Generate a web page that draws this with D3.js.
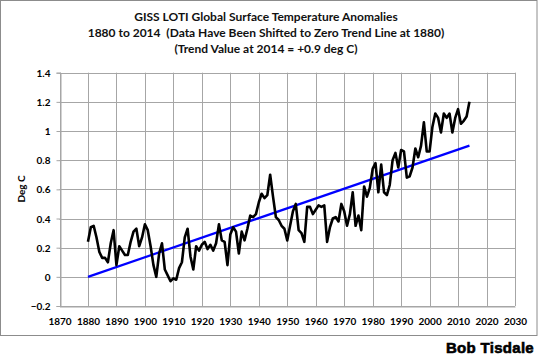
<!DOCTYPE html>
<html><head><meta charset="utf-8">
<script src="https://cdn.jsdelivr.net/npm/d3@7"></script>
<style>body{margin:0;background:#fff}svg{display:block}</style>
</head><body>
<svg id="c" width="540" height="357"></svg>
<script>
const titleLines = ["GISS LOTI Global Surface Temperature Anomalies",
  "1880 to 2014  (Data Have Been Shifted to Zero Trend Line at 1880)",
  "(Trend Value at 2014 = +0.9 deg C)"];
const yAxisLabel = "Deg C";
const credit = "Bob Tisdale";
const xTicks = d3.range(1870, 2031, 10);
const yTicks = [-0.2, 0, 0.2, 0.4, 0.6, 0.8, 1, 1.2, 1.4];
const startYear = 1880;
const anomalies = [
  0.24,0.34,0.35,0.27,0.17,0.13,0.13,0.10,0.23,0.32,
  0.08,0.21,0.18,0.15,0.15,0.24,0.31,0.33,0.21,0.27,
  0.36,0.32,0.21,0.08,0.00,0.16,0.23,0.05,0.01,-0.03,
  -0.01,-0.02,0.06,0.10,0.27,0.33,0.14,0.05,0.21,0.18,
  0.22,0.24,0.19,0.22,0.18,0.23,0.36,0.25,0.24,0.08,
  0.29,0.34,0.31,0.16,0.31,0.25,0.33,0.42,0.41,0.43,
  0.51,0.57,0.54,0.56,0.70,0.55,0.41,0.39,0.35,0.33,
  0.25,0.35,0.45,0.50,0.32,0.30,0.24,0.48,0.48,0.43,
  0.46,0.49,0.48,0.49,0.24,0.34,0.40,0.41,0.38,0.50,
  0.45,0.35,0.43,0.58,0.35,0.42,0.32,0.62,0.55,0.61,
  0.74,0.78,0.58,0.77,0.58,0.56,0.63,0.80,0.85,0.75,
  0.87,0.86,0.68,0.69,0.75,0.88,0.82,0.90,1.06,0.86,
  0.86,1.03,1.12,1.09,0.99,1.12,1.09,1.12,0.99,1.09,
  1.15,1.05,1.07,1.10,1.20];
const trendYears = [1880, 2014];
const trendValues = [0, 0.9];

const series = anomalies.map((v, i) => ({year: startYear + i, value: v}));
const trend = trendYears.map((y, i) => ({year: y, value: trendValues[i]}));

const svg = d3.select("#c");
const L = 59.5, R = 515, T = 72.7, B = 306;
const x = d3.scaleLinear().domain([1870, 2030]).range([L, R]);
const y = d3.scaleLinear().domain([-0.2, 1.4]).range([B, T]);
const font = "Lato, 'Open Sans', sans-serif";
const grid = "#a6a6a6";

// outer border
svg.append("rect").attr("x", 0.5).attr("y", 0.5).attr("width", 536.5).attr("height", 335)
  .attr("fill", "#fff").attr("stroke", "#8c8c8c").attr("stroke-width", 1);

// gridlines
svg.append("g").selectAll("line").data(yTicks).join("line")
  .attr("x1", L).attr("x2", R)
  .attr("y1", d => Math.round(y(d)) + 0.5).attr("y2", d => Math.round(y(d)) + 0.5)
  .attr("stroke", grid).attr("stroke-width", 1);
svg.append("g").selectAll("line").data(xTicks).join("line")
  .attr("y1", T).attr("y2", B)
  .attr("x1", d => Math.round(x(d)) + 0.5).attr("x2", d => Math.round(x(d)) + 0.5)
  .attr("stroke", grid).attr("stroke-width", 1);

// axes
const yAxis = svg.append("g").attr("transform", `translate(${Math.round(L) + 0.5},0)`)
  .call(d3.axisLeft(y).tickValues(yTicks).tickSize(4).tickPadding(6)
    .tickFormat(d => d === 0 ? "0" : d3.format("")(+d.toFixed(1))));
const xAxis = svg.append("g").attr("transform", `translate(0,${Math.round(B) + 0.5})`)
  .call(d3.axisBottom(x).tickValues(xTicks).tickSize(0).tickPadding(11).tickFormat(d3.format("d")));
[yAxis, xAxis].forEach(a => {
  a.select(".domain").attr("stroke", grid);
  a.selectAll(".tick line").attr("stroke", grid);
  a.selectAll("text").attr("fill", "#000").style("font-family", font)
    .style("font-weight", "bold").style("font-size", "10px");
});
yAxis.selectAll("text").attr("dy", "0.35em");

// trend line
const line = d3.line().x(d => x(d.year)).y(d => y(d.value));
svg.append("path").datum(trend).attr("d", line)
  .attr("fill", "none").attr("stroke", "#0000ff").attr("stroke-width", 2.2);

// data line
svg.append("path").datum(series).attr("d", line)
  .attr("fill", "none").attr("stroke", "#000").attr("stroke-width", 2.6)
  .attr("stroke-linejoin", "round");

// titles
svg.append("g").selectAll("text").data(titleLines).join("text")
  .attr("x", 266).attr("y", (d, i) => 21 + i * 16.2)
  .attr("text-anchor", "middle").style("font-family", font).style("white-space", "pre")
  .style("font-weight", "bold").style("font-size", "12px").attr("fill", "#111")
  .text(d => d);

// y label
svg.append("text").attr("transform", "translate(25,189) rotate(-90)")
  .attr("text-anchor", "middle").style("font-family", font)
  .style("font-weight", "bold").style("font-size", "10px").text(yAxisLabel);

// credit
svg.append("text").attr("x", 534).attr("y", 352.5).attr("text-anchor", "end")
  .style("font-family", "'Liberation Sans', Arial, sans-serif").style("font-weight", "bold")
  .style("font-size", "15px").attr("stroke", "#000").attr("stroke-width", 0.6)
  .attr("letter-spacing", 0.3).text(credit);
</script>
</body></html>
